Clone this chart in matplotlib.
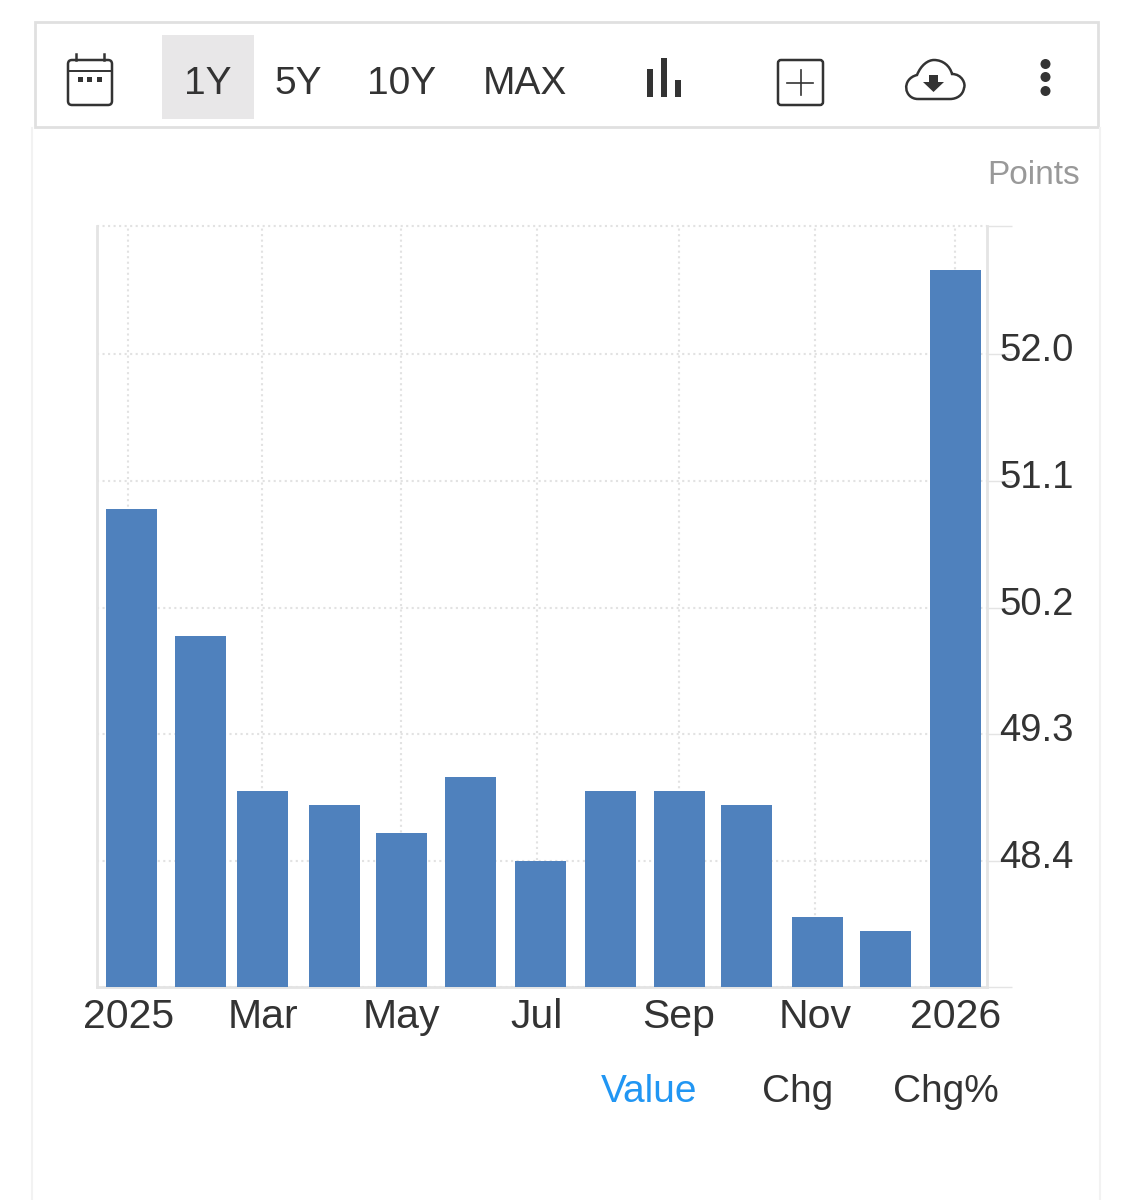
from matplotlib.patches import Rectangle, FancyBboxPatch, Circle, Polygon
from matplotlib.path import Path
from matplotlib.patches import PathPatch
from matplotlib.transforms import ScaledTranslation
import matplotlib.pyplot as plt

plt.rcParams['font.family'] = ['Liberation Sans', 'DejaVu Sans']

W, H = 1133, 1200

# bar positions in days since Jan 2025, one per month
bar_days = [0, 30.6, 58, 90, 119.6, 150, 181, 212, 242.6, 272.3, 304, 334, 365]
values = [50.9, 50.0, 48.9, 48.8, 48.6, 49.0, 48.4, 48.9, 48.9, 48.8, 48.0, 47.9, 52.6]

tick_days = [-1.5, 58, 119.5, 179.5, 242.5, 302.7, 365]
tick_labels = ["2025", "Mar", "May", "Jul", "Sep", "Nov", "2026"]
y_ticks = [47.505, 48.4, 49.3, 50.2, 51.1, 52.0, 52.91]
y_labels = ["", "48.4", "49.3", "50.2", "51.1", "52.0", ""]
ranges = ["1Y", "5Y", "10Y", "MAX"]
range_x = [208, 298, 402, 524.5]
modes = ["Value", "Chg", "Chg%"]
mode_x = [649, 798, 946]
mode_colors = ["#2196f3", "#333333", "#333333"]

TEXT = "#333333"
LINE = "#e4e4e4"
BAR = "#4f81bd"

fig = plt.figure(figsize=(W / 100, H / 100), dpi=100)

# page chrome and toolbar, in pixel coordinates
ui = fig.add_axes([0, 0, 1, 1])
ui.set_xlim(0, W)
ui.set_ylim(H, 0)
ui.axis("off")
ui.plot([32, 32], [128, H], color="#f2f2f2", lw=1.5)
ui.plot([1100, 1100], [128, H], color="#f2f2f2", lw=1.5)
ui.add_patch(Rectangle((35, 22), 1063, 105, fc="white", ec="#e0e0e0", lw=2))
ui.add_patch(Rectangle((162, 35), 92, 84, fc="#e8e7e8", ec="none"))
for s, x in zip(ranges, range_x):
    ui.text(x, 83.5, s, fontsize=28, color=TEXT, ha="center", va="center")

# calendar icon
ui.add_patch(FancyBboxPatch((68, 60), 44, 45, boxstyle="round,pad=0,rounding_size=4",
                            fc="none", ec=TEXT, lw=1.8))
ui.plot([68, 112], [71, 71], color=TEXT, lw=1.4)
ui.plot([76, 76], [54, 60], color=TEXT, lw=1.8)
ui.plot([104, 104], [54, 60], color=TEXT, lw=1.8)
for x in [77.5, 87, 96.5]:
    ui.add_patch(Rectangle((x, 77), 5, 5, fc=TEXT, ec="none"))

# bar chart icon
ui.add_patch(Rectangle((647, 69), 6, 28, fc=TEXT, ec="none"))
ui.add_patch(Rectangle((661, 58), 6, 39, fc=TEXT, ec="none"))
ui.add_patch(Rectangle((675, 80), 6, 17, fc=TEXT, ec="none"))

# plus box icon
ui.add_patch(FancyBboxPatch((778, 60), 45, 45, boxstyle="round,pad=0,rounding_size=3",
                            fc="none", ec=TEXT, lw=1.8))
ui.plot([787, 813], [82.5, 82.5], color=TEXT, lw=1.2)
ui.plot([800.5, 800.5], [70, 95], color=TEXT, lw=1.2)

# cloud icon with download arrow
cloud = Path([(918, 99), (904, 99), (901, 79), (917, 75),
              (921, 65), (928, 60), (934, 60),
              (943, 60), (950, 66), (952, 74),
              (962, 74), (966, 84), (964, 88),
              (963, 95), (957, 99), (950, 99), (918, 99)],
             [Path.MOVETO, Path.CURVE4, Path.CURVE4, Path.CURVE4,
              Path.CURVE4, Path.CURVE4, Path.CURVE4,
              Path.CURVE4, Path.CURVE4, Path.CURVE4,
              Path.CURVE4, Path.CURVE4, Path.CURVE4,
              Path.CURVE4, Path.CURVE4, Path.CURVE4, Path.LINETO])
ui.add_patch(PathPatch(cloud, fc="none", ec=TEXT, lw=1.8))
ui.add_patch(Polygon([(929, 75), (938, 75), (938, 82), (944, 82), (933.5, 92), (923, 82), (929, 82)],
                     fc=TEXT, ec="none"))

# three dots menu
for y in [64, 77, 91]:
    ui.add_patch(Circle((1045.5, y), 5, fc=TEXT, ec="none"))

ui.text(1080, 176, "Points", fontsize=24, color="#999999", ha="right", va="center")
for s, x, c in zip(modes, mode_x, mode_colors):
    ui.text(x, 1092, s, fontsize=28, color=c, ha="center", va="center")

# plot area spans x 97..987 and y 226..987 px
ax = fig.add_axes([97 / W, 1 - 987 / H, 890 / W, 761 / H])
ax.patch.set_alpha(0)
ax.bar(bar_days, values, width=22.6, color=BAR, zorder=3)
ax.set_xlim(-15.3, 379)
ax.set_ylim(47.505, 52.91)

ax.set_xticks(tick_days)
ax.set_xticklabels(tick_labels)
ax.set_yticks(y_ticks)
ax.set_yticklabels(y_labels)
ax.yaxis.tick_right()
ax.tick_params(axis="x", length=0, pad=8, labelsize=29.5, labelcolor=TEXT)
ax.tick_params(axis="y", length=18, width=1, color=LINE, pad=-9.3, labelsize=27.5, labelcolor=TEXT)
ax.grid(True, color="#e2e2e2", ls=":", lw=1.5, zorder=0)
ax.set_axisbelow(True)
for gl in ax.get_ygridlines():
    gl.set_clip_on(False)

# the value labels sit a little above their grid lines
shift = ScaledTranslation(0, 7 / 100, fig.dpi_scale_trans)
for lab in ax.yaxis.get_majorticklabels():
    lab.set_transform(lab.get_transform() + shift)

ax.spines["top"].set_visible(False)
for side in ["left", "right", "bottom"]:
    ax.spines[side].set_color(LINE)
    ax.spines[side].set_linewidth(2)

fig.savefig("out.png", dpi=100)
